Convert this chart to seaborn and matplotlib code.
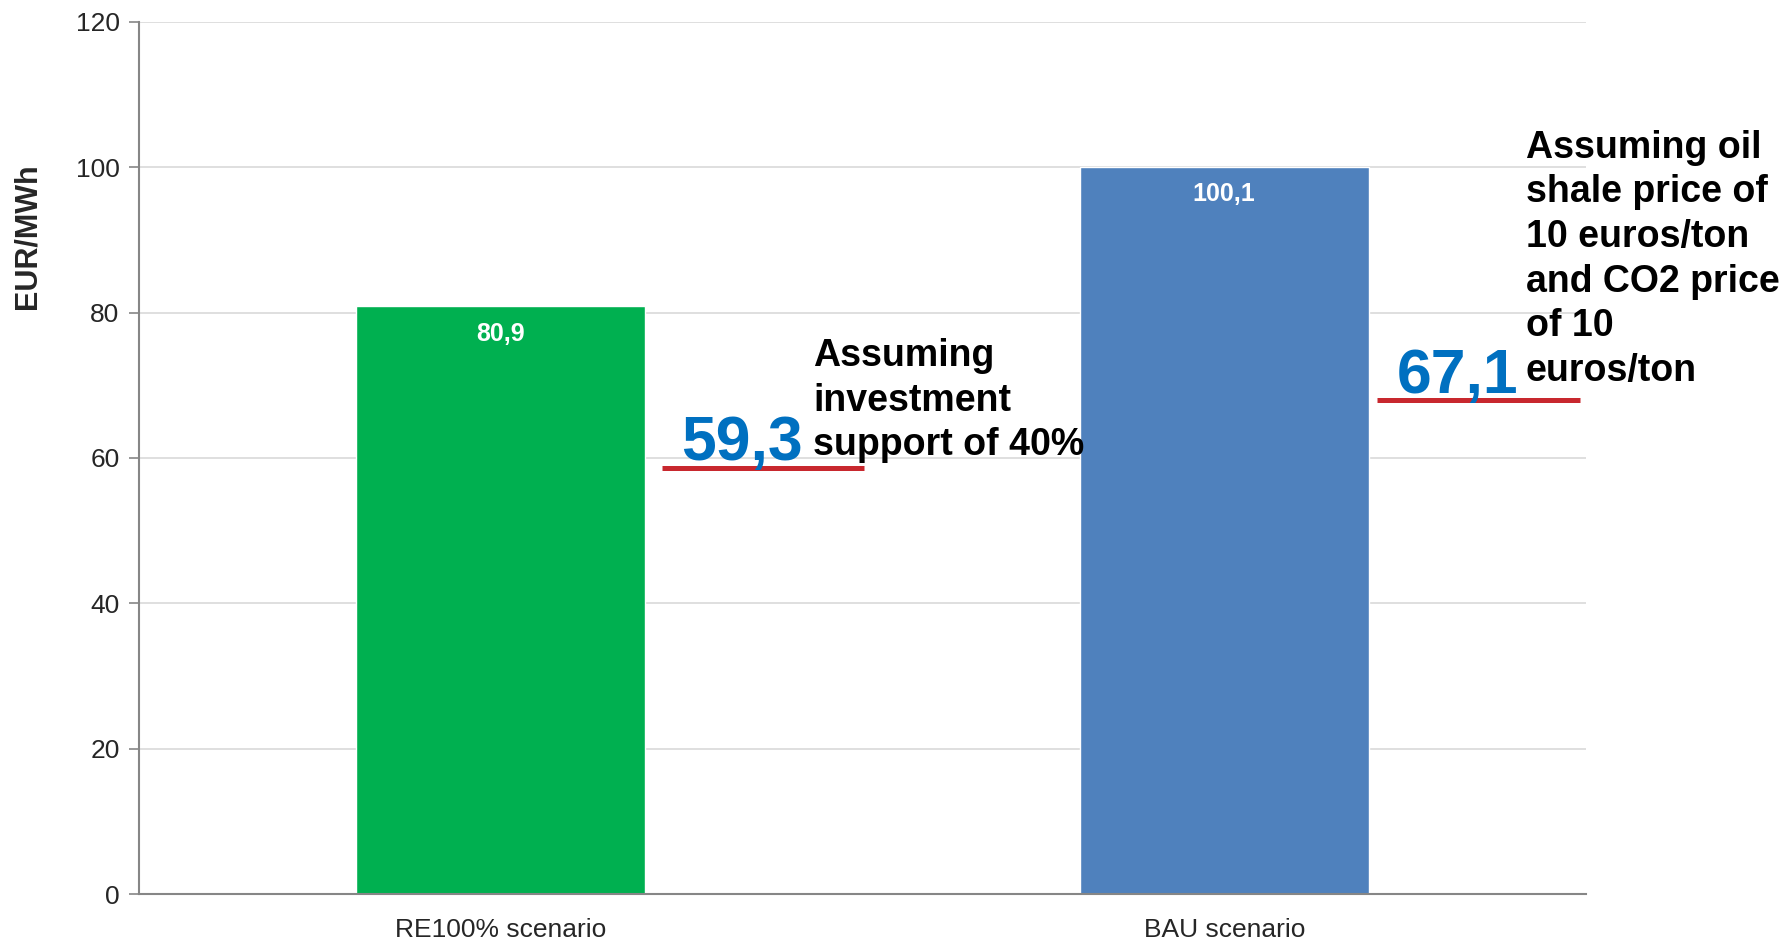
import matplotlib
matplotlib.use("Agg")
import matplotlib.pyplot as plt
import seaborn as sns
import pandas as pd

# data
categories = ["RE100% scenario", "BAU scenario"]
costs = [80.9, 100.1]
cost_labels = ["80,9", "100,1"]
support_values = ["59,3", "67,1"]
support_levels = [58.6, 68.0]  # where the red marker lines sit
notes = ["Assuming\ninvestment\nsupport of 40%",
         "Assuming oil\nshale price of\n10 euros/ton\nand CO2 price\nof 10\neuros/ton"]
yticks = [0, 20, 40, 60, 80, 100, 120]

sns.set_theme(style="white")
plt.rcParams['font.family'] = ['Liberation Sans', 'DejaVu Sans']

fig = plt.figure(figsize=(17.89, 9.39), dpi=100)
ax = fig.add_axes([0.0777, 0.0479, 0.8088, 0.9287])

df = pd.DataFrame({"cat": categories, "val": costs})
sns.barplot(data=df, x="cat", y="val", hue="cat",
            palette=["#00B050", "#4F81BD"], width=0.4, legend=False,
            saturation=1, ax=ax, zorder=2)

ax.set_xlim(-0.5, 1.5)
ax.set_ylim(0, 120)
ax.set_yticks(yticks)
ax.set_yticklabels([str(t) for t in yticks], fontsize=19)
ax.yaxis.grid(True, color="#d9d9d9", lw=1.2, zorder=0)
ax.set_axisbelow(True)
ax.set_xticks([0, 1])
ax.set_xticklabels(categories, fontsize=19)
ax.set_xticks([-0.5, 0.5, 1.5], minor=True)
ax.tick_params(axis="x", which="major", length=0, pad=17)
ax.tick_params(axis="x", which="minor", length=7, width=1.2, color="#868686", direction="out")
ax.tick_params(axis="y", length=7, width=1.2, color="#868686", direction="out", pad=7, left=True)
ax.set_xlabel("")
ax.set_ylabel("")
for s in ["top", "right"]:
    ax.spines[s].set_visible(False)
for s in ["left", "bottom"]:
    ax.spines[s].set_color("#868686")
    ax.spines[s].set_linewidth(1.5)

# bar value labels
label_y = [77.1, 96.3]
for i, (lab, ly) in enumerate(zip(cost_labels, label_y)):
    ax.text(i, ly, lab, ha="center", va="center", color="white",
            fontsize=18, fontweight="bold", zorder=3)

# red support lines
line_x = [(0.223, 0.502), (1.211, 1.492)]
for (x0, x1), lv in zip(line_x, support_levels):
    ax.hlines(lv, x0, x1, color="#C8282E", lw=3.6, zorder=3, clip_on=False)

# big blue values
val_pos = [(0.25, 59.7), (1.239, 68.9)]
for (x, y), v in zip(val_pos, support_values):
    ax.text(x, y, v, ha="left", va="baseline", color="#0070C0",
            fontsize=45, fontweight="bold", zorder=4, clip_on=False)

# notes
note_pos = [(0.432, 76.5), (1.417, 105.2)]
for (x, y), n in zip(note_pos, notes):
    ax.text(x, y, n, ha="left", va="top", color="black", fontsize=27,
            fontweight="bold", linespacing=1.31, zorder=4, clip_on=False)

fig.text(0.0153, 0.748, "EUR/MWh", rotation=90, ha="center", va="center",
         fontsize=22, fontweight="bold")

fig.savefig("out.png", dpi=100)
